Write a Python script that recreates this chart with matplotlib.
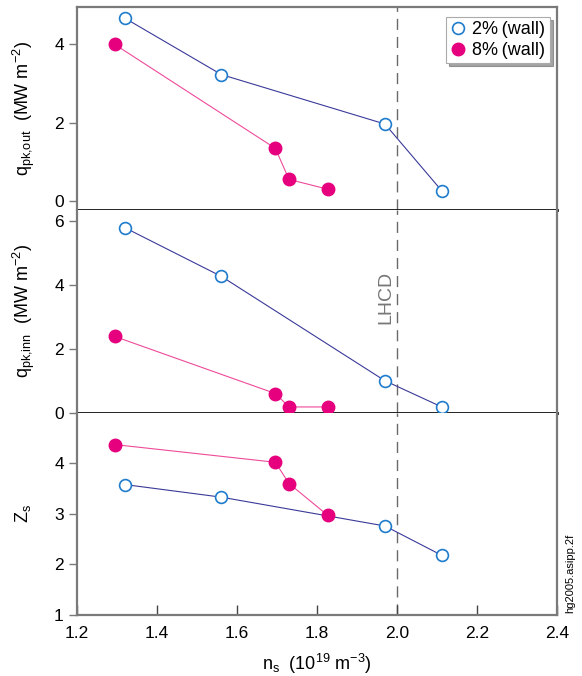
import numpy as np
import matplotlib.pyplot as plt

plt.rcParams['font.family'] = ['Liberation Sans', 'DejaVu Sans']
plt.rcParams['mathtext.fontset'] = 'custom'
plt.rcParams['mathtext.rm'] = 'Liberation Sans'

# data
ns_2 = [1.319, 1.561, 1.970, 2.112]
ns_8 = [1.294, 1.696, 1.730, 1.827]

qout_2 = [4.67, 3.23, 1.97, 0.27]
qout_8 = [4.00, 1.35, 0.56, 0.31]

qinn_2 = [5.80, 4.27, 1.00, 0.18]
qinn_8 = [2.39, 0.60, 0.18, 0.18]

zs_2 = [3.58, 3.33, 2.76, 2.18]
zs_8 = [4.37, 4.02, 3.60, 2.97]

x_ticks = [1.2, 1.4, 1.6, 1.8, 2.0, 2.2, 2.4]
lhcd_x = 2.0

blue_line = '#3a3a9a'
blue_mk = '#1f7ccc'
pink_line = '#ee4a9a'
pink_mk = '#e6007e'
frame = '#7a7a7a'

fig = plt.figure(figsize=(5.82, 6.76), dpi=100)
left, width = 0.1323, 0.8247
ax1 = fig.add_axes([left, 0.6893, width, 0.3003])
ax2 = fig.add_axes([left, 0.3895, width, 0.2998])
ax3 = fig.add_axes([left, 0.0902, width, 0.2993])
axes = [ax1, ax2, ax3]

panels = [(ax1, qout_2, qout_8), (ax2, qinn_2, qinn_8), (ax3, zs_2, zs_8)]
for ax, y2, y8 in panels:
    ax.plot(ns_2, y2, '-', color=blue_line, lw=0.8, zorder=2)
    ax.plot(ns_2, y2, 'o', ms=8.5, mfc='white', mec=blue_mk, mew=1.2, zorder=3,
            label='2%\u2009(wall)')
    ax.plot(ns_8, y8, '-', color=pink_line, lw=0.8, zorder=2)
    ax.plot(ns_8, y8, 'o', ms=9, mfc=pink_mk, mec=pink_mk, zorder=3,
            label='8%\u2009(wall)')
    ax.axvline(lhcd_x, color='#6a6a6a', lw=1, dashes=(8, 5), zorder=1)
    ax.set_xlim(1.2, 2.4)
    ax.tick_params(axis='y', direction='out', length=6, width=1, color=frame,
                   labelsize=12.5, pad=3.5)
    for s in ax.spines.values():
        s.set_color(frame)
        s.set_linewidth(1.6)

# black dividers between the stacked panels
for ax in [ax1, ax2]:
    ax.tick_params(axis='x', bottom=False, labelbottom=False)
    ax.spines['bottom'].set_color('#111111')
    ax.spines['bottom'].set_linewidth(2.0)
for ax in [ax2, ax3]:
    ax.spines['top'].set_visible(False)

ax1.set_ylim(-0.22, 4.95)
ax1.set_yticks([0, 2, 4])
ax2.set_ylim(0, 6.35)
ax2.set_yticks([0, 2, 4, 6])
ax3.set_ylim(1, 5)
ax3.set_yticks([1, 2, 3, 4])

ax3.set_xticks(x_ticks)
ax3.set_xticklabels([f'{v:.1f}' for v in x_ticks])
ax3.tick_params(axis='x', direction='in', length=7, width=1, color='#444444',
                labelsize=12.5, pad=8)

ax1.set_ylabel(r'$\mathregular{q_{pk{,}out}}$  (MW m$^{\mathregular{-2}}$)', fontsize=13)
ax2.set_ylabel(r'$\mathregular{q_{pk{,}inn}}$  (MW m$^{\mathregular{-2}}$)', fontsize=13)
ax3.set_ylabel(r'$\mathregular{Z_s}$', fontsize=13)
ax3.set_xlabel(r'$\mathregular{n_s}$  (10$^{\mathregular{19}}$ m$^{\mathregular{-3}}$)', fontsize=13, labelpad=8)
ax1.yaxis.set_label_coords(-0.083, 0.5)
ax2.yaxis.set_label_coords(-0.083, 0.5)
ax3.yaxis.set_label_coords(-0.092, 0.5)

ax2.text(1.971, 3.62, 'LHCD', rotation=90, color='#777777', fontsize=14,
         ha='center', va='center')

leg = ax1.legend(loc='upper right', bbox_to_anchor=(0.985, 0.952), borderaxespad=0,
                 fontsize=13, frameon=True, fancybox=False, shadow=True,
                 handlelength=0.8, handletextpad=0.4, borderpad=0.25,
                 labelspacing=0.2, edgecolor='#aaaaaa')
leg.get_frame().set_linewidth(0.8)

fig.text(0.979, 0.093, 'hg2005.asipp.2f', rotation=90, fontsize=8,
         ha='center', va='bottom')

fig.savefig('out.png', dpi=100)
